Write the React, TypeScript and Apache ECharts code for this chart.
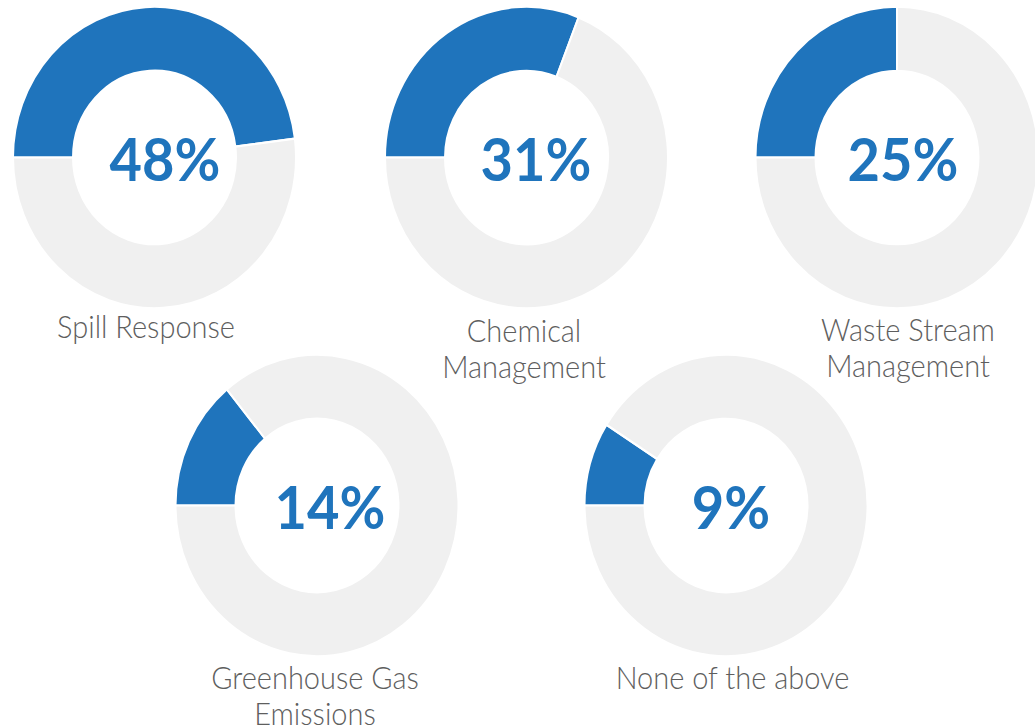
import React, { useEffect, useRef } from "react";
import * as echarts from "echarts";

// ---- data ----
const categories = [
  "Spill Response",
  "Chemical\nManagement",
  "Waste Stream\nManagement",
  "Greenhouse Gas\nEmissions",
  "None of the above",
];
const values = [48, 31, 25, 14, 9];
const percentLabels = ["48%", "31%", "25%", "14%", "9%"];

// ---- layout (final pixel coordinates; the drawing is stretched vertically by S) ----
const S = 1.065;
const W = 1035;
const H = 726;
const centersX = [154.5, 526.5, 897, 317, 726];
const centersY = [157.5, 157.5, 157.5, 505.5, 505.5];
const pctX = [165, 536, 903, 330, 731];
const pctY = [158.3, 158.3, 158.3, 505.5, 505.5];
const labelX = [146, 524, 908, 315, 732.5];
const labelY = [326, 330, 329, 677, 677]; // middle of first line's capitals
const LINE_H = 33;

const BLUE = "#1f74bc";
const GRAY = "#f0f0f0";
const LABEL = "#5e5e5e";

export default function App() {
  const ref = useRef<HTMLDivElement>(null);
  useEffect(() => {
    if (!ref.current) return;
    const chart = echarts.init(ref.current, undefined, { renderer: "svg" });
    const series = values.map((v, i) => ({
      type: "pie",
      center: [centersX[i], centersY[i] / S],
      radius: [81.5, 141.5],
      startAngle: 180,
      clockwise: true,
      silent: true,
      label: { show: false },
      labelLine: { show: false },
      emphasis: { disabled: true },
      itemStyle: { borderColor: "#ffffff", borderWidth: 2 },
      data: [
        { name: "yes", value: v, itemStyle: { color: BLUE } },
        { name: "rest", value: 100 - v, itemStyle: { color: GRAY } },
      ],
    }));
    const graphics: any[] = [];
    values.forEach((_, i) => {
      graphics.push({
        type: "text",
        x: pctX[i],
        y: pctY[i] / S,
        silent: true,
        style: {
          text: percentLabels[i],
          fill: BLUE,
          fontSize: 56,
          fontWeight: "bold",
          fontFamily: "Lato",
          align: "center",
          verticalAlign: "middle",
        },
      });
      graphics.push({
        type: "text",
        x: labelX[i],
        y: labelY[i] / S - LINE_H / 2,
        silent: true,
        style: {
          text: categories[i],
          fill: LABEL,
          fontSize: 29,
          fontWeight: 300,
          fontFamily: "Lato",
          align: "center",
          verticalAlign: "top",
          lineHeight: LINE_H,
        },
      });
    });
    chart.setOption({
      animation: false,
      backgroundColor: "#ffffff",
      series,
      graphic: graphics,
    });
    return () => chart.dispose();
  }, []);
  return (
    <div
      ref={ref}
      style={{
        position: "absolute",
        left: 0,
        top: 0,
        width: W,
        height: H / S,
        transform: `scaleY(${S})`,
        transformOrigin: "top left",
      }}
    />
  );
}
